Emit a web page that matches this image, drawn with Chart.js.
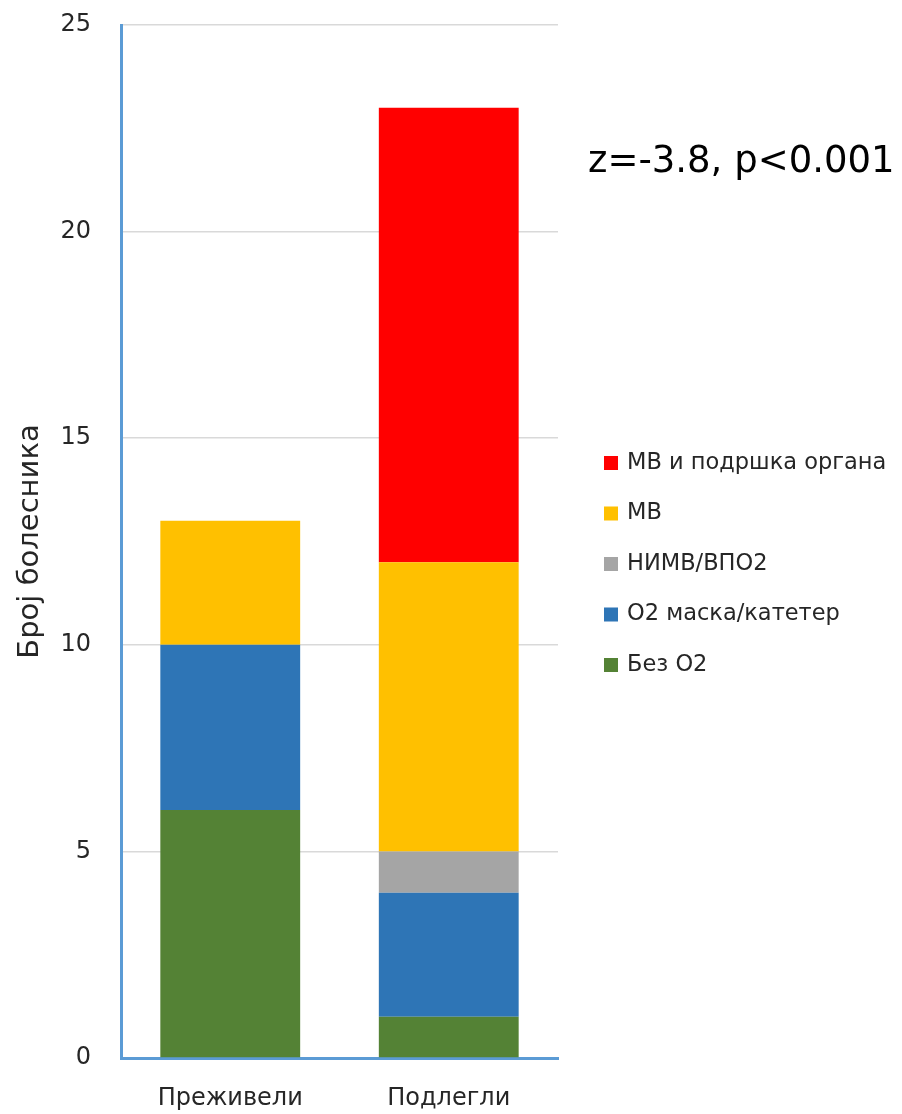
<!DOCTYPE html>
<html>
<head>
<meta charset="utf-8">
<script src="https://cdn.jsdelivr.net/npm/chart.js@4"></script>
<style>
html,body{margin:0;padding:0;background:#fff;}
#wrap{width:902px;height:1114px;position:relative;}
</style>
</head>
<body>
<div id="wrap"><canvas id="c" width="902" height="1114"></canvas></div>
<script>
const categories = ["Преживели", "Подлегли"];
const bezO2 = [6, 1];
const o2Maska = [4, 3];
const nimv = [0, 1];
const mv = [3, 7];
const mvOrgan = [0, 11];
const seriesNames = ["Без О2", "О2 маска/катетер", "НИМВ/ВПО2", "МВ", "МВ и подршка органа"];
const yTicks = [0, 5, 10, 15, 20, 25];
const yTitle = "Број болесника";
const note = "z=-3.8, p<0.001";

const colors = ["#548235", "#2E75B6", "#A5A5A5", "#FFC000", "#FF0000"];
const seriesData = [bezO2, o2Maska, nimv, mv, mvOrgan];
const FONT = "'DejaVu Sans', sans-serif";

const legendPlugin = {
  id: 'customLegend',
  afterDraw(chart) {
    const ctx = chart.ctx;
    ctx.save();
    const ds = chart.data.datasets;
    const x0 = 604, y0 = 463, step = 50.5;
    ctx.font = "22.5px " + FONT;
    ctx.textBaseline = 'middle';
    ctx.textAlign = 'left';
    for (let i = ds.length - 1, k = 0; i >= 0; i--, k++) {
      const y = y0 + k * step;
      ctx.fillStyle = ds[i].backgroundColor;
      ctx.fillRect(x0, y - 7, 14, 14);
      ctx.fillStyle = '#262626';
      ctx.fillText(ds[i].label, 627, y);
    }
    ctx.font = "37px " + FONT;
    ctx.fillStyle = '#000';
    ctx.textBaseline = 'alphabetic';
    ctx.fillText(note, 588, 172);
    ctx.restore();
  }
};

new Chart(document.getElementById('c'), {
  type: 'bar',
  data: {
    labels: categories,
    datasets: seriesData.map((d, i) => ({
      label: seriesNames[i],
      data: d,
      backgroundColor: colors[i],
      borderWidth: 0,
      barPercentage: 0.64,
      categoryPercentage: 1.0
    }))
  },
  options: {
    responsive: false,
    devicePixelRatio: 1,
    animation: false,
    layout: { padding: { top: 25, right: 344, left: 0, bottom: 0 } },
    plugins: { legend: { display: false }, tooltip: { enabled: false } },
    scales: {
      x: {
        stacked: true,
        grid: { display: false, drawTicks: false },
        border: { display: true, color: '#5B9BD5', width: 3 },
        ticks: { font: { family: FONT, size: 24 }, color: '#262626', padding: 26 },
        afterFit(s) { s.height = 56; }
      },
      y: {
        stacked: true,
        min: 0, max: 25,
        afterBuildTicks(s) { s.ticks = yTicks.map(v => ({ value: v })); },
        grid: { color: '#D9D9D9', lineWidth: 1.5, drawTicks: false },
        border: { display: true, color: '#5B9BD5', width: 3 },
        ticks: { font: { family: FONT, size: 24 }, color: '#262626', padding: 30 },
        title: { display: true, text: yTitle, font: { family: FONT, size: 29 }, color: '#262626', padding: { top: 13, bottom: 0 } },
        afterFit(s) { s.width = 121; s.paddingTop = 0; s.paddingBottom = 0; }
      }
    }
  },
  plugins: [legendPlugin]
});
</script>
</body>
</html>
